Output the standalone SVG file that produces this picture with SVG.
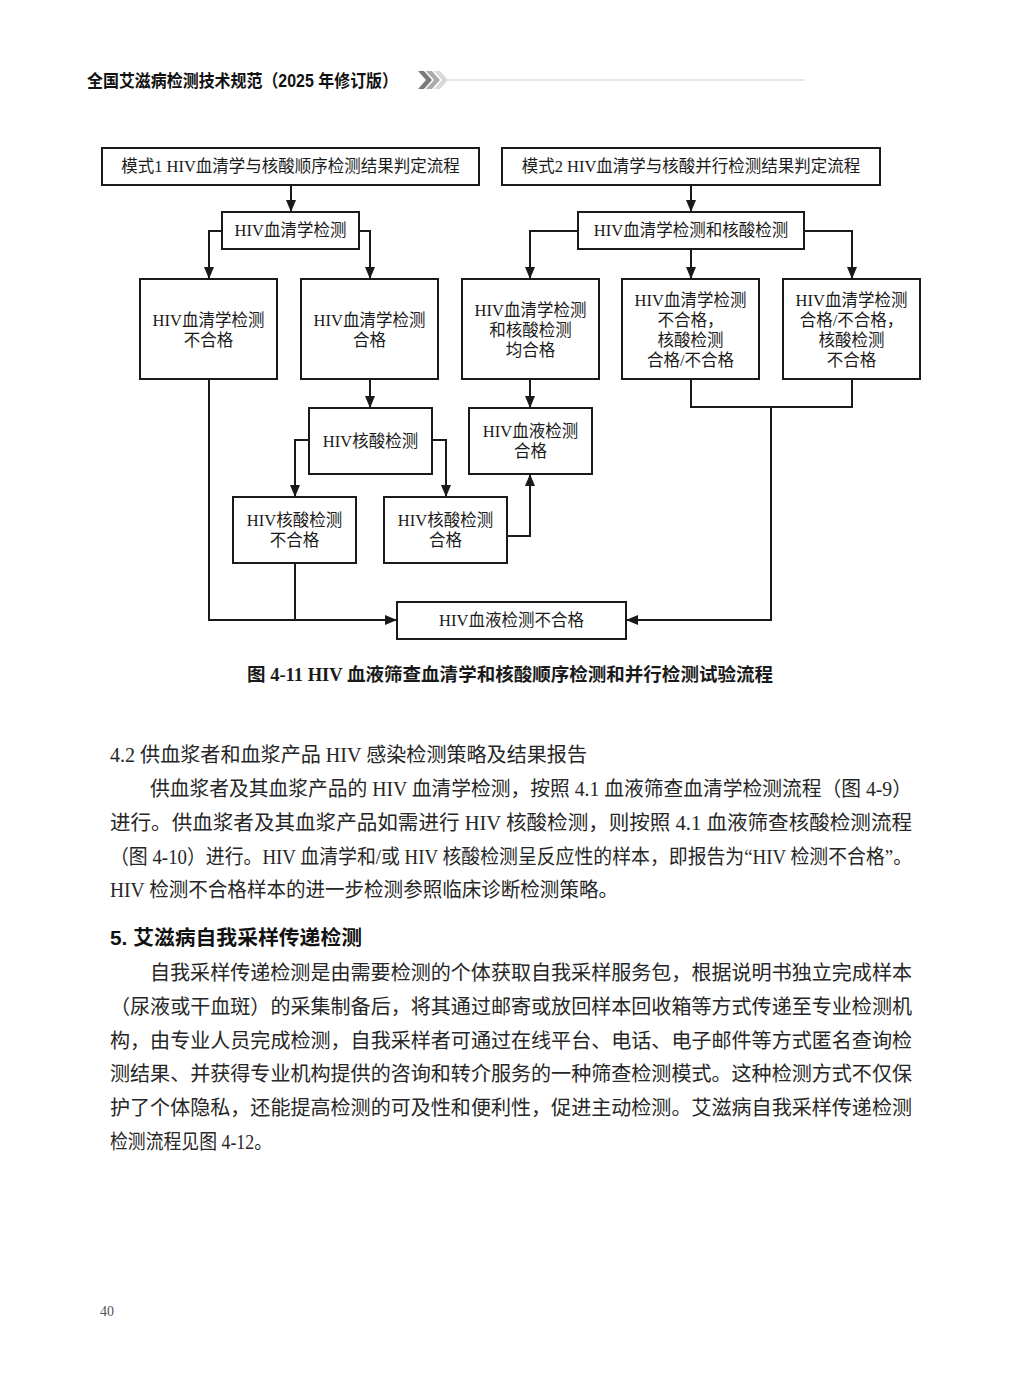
<svg xmlns="http://www.w3.org/2000/svg" width="1022" height="1376" viewBox="0 0 1022 1376">
<style>
.bx{fill:#fff;stroke:#1a1a1a;stroke-width:2}
.t{font-family:"Liberation Serif","Noto Sans CJK SC",serif;font-size:16.5px;fill:#1a1a1a;text-anchor:middle}
.cn{fill:none;stroke:#1a1a1a;stroke-width:2}
.body{font-family:"Liberation Serif","Noto Sans CJK SC",serif;font-size:20px;fill:#262626}
.hd{font-family:"Liberation Sans","Noto Sans CJK SC",sans-serif;font-weight:bold;fill:#111}
</style>
<defs>
<marker id="ah" viewBox="0 0 12 12" refX="12" refY="6" markerWidth="12" markerHeight="12" markerUnits="userSpaceOnUse" orient="auto">
<path d="M0,1 L12,6 L0,11 z" fill="#1a1a1a"/>
</marker>
</defs>
<rect width="1022" height="1376" fill="#fff"/>

<!-- page header -->
<g id="header">
<text class="hd" x="87" y="87" font-size="17.5" textLength="311" lengthAdjust="spacingAndGlyphs">全国艾滋病检测技术规范（2025 年修订版）</text>
<path d="M418,71 L424,71 L432,80 L424,89 L418,89 L426,80 z" fill="#7a7a7a"/>
<path d="M426,71 L432,71 L440,80 L432,89 L426,89 L434,80 z" fill="#ababab"/>
<path d="M434,71 L440,71 L448,80 L440,89 L434,89 L442,80 z" fill="#d8d8d8"/>
<line x1="446" y1="80" x2="805" y2="80" stroke="#e0e0e0" stroke-width="1.5"/>
</g>

<!-- connectors -->
<g id="connectors">
<path class="cn" d="M291,185 V212" marker-end="url(#ah)"/>
<path class="cn" d="M222,231 H209 V279" marker-end="url(#ah)"/>
<path class="cn" d="M359,231 H370 V279" marker-end="url(#ah)"/>
<path class="cn" d="M209,379 V620 H397" marker-end="url(#ah)"/>
<path class="cn" d="M370,379 V408" marker-end="url(#ah)"/>
<path class="cn" d="M309,440 H295 V497" marker-end="url(#ah)"/>
<path class="cn" d="M432,440 H446 V497" marker-end="url(#ah)"/>
<path class="cn" d="M295,563 V620"/>
<path class="cn" d="M507,536 H530 V474" marker-end="url(#ah)"/>
<path class="cn" d="M530,379 V408" marker-end="url(#ah)"/>
<path class="cn" d="M691,185 V212" marker-end="url(#ah)"/>
<path class="cn" d="M578,231 H530 V279" marker-end="url(#ah)"/>
<path class="cn" d="M691,249 V279" marker-end="url(#ah)"/>
<path class="cn" d="M804,231 H852 V279" marker-end="url(#ah)"/>
<path class="cn" d="M691,379 V407 H852 V379"/>
<path class="cn" d="M771,407 V620 H626" marker-end="url(#ah)"/>
</g>

<!-- nodes -->
<g id="mode1">
<rect class="bx" x="102" y="148" width="377" height="37"/>
<text class="t" x="290.5" y="172">模式1 HIV血清学与核酸顺序检测结果判定流程</text>
</g>
<g id="mode2">
<rect class="bx" x="502" y="148" width="378" height="37"/>
<text class="t" x="691" y="172">模式2 HIV血清学与核酸并行检测结果判定流程</text>
</g>
<g id="serology">
<rect class="bx" x="222" y="212" width="137" height="37"/>
<text class="t" x="290.5" y="236">HIV血清学检测</text>
</g>
<g id="serology-both">
<rect class="bx" x="578" y="212" width="226" height="37"/>
<text class="t" x="691" y="236">HIV血清学检测和核酸检测</text>
</g>
<g id="sero-fail">
<rect class="bx" x="140" y="279" width="137" height="100"/>
<text class="t" x="208.5" y="326">HIV血清学检测</text>
<text class="t" x="208.5" y="346">不合格</text>
</g>
<g id="sero-pass">
<rect class="bx" x="301" y="279" width="137" height="100"/>
<text class="t" x="369.5" y="326">HIV血清学检测</text>
<text class="t" x="369.5" y="346">合格</text>
</g>
<g id="both-pass">
<rect class="bx" x="462" y="279" width="137" height="100"/>
<text class="t" x="530.5" y="316">HIV血清学检测</text>
<text class="t" x="530.5" y="336">和核酸检测</text>
<text class="t" x="530.5" y="356">均合格</text>
</g>
<g id="sero-fail-nat">
<rect class="bx" x="622" y="279" width="137" height="100"/>
<text class="t" x="690.5" y="306">HIV血清学检测</text>
<text class="t" x="690.5" y="326">不合格，</text>
<text class="t" x="690.5" y="346">核酸检测</text>
<text class="t" x="690.5" y="366">合格/不合格</text>
</g>
<g id="nat-fail-sero">
<rect class="bx" x="783" y="279" width="137" height="100"/>
<text class="t" x="851.5" y="306">HIV血清学检测</text>
<text class="t" x="851.5" y="326">合格/不合格，</text>
<text class="t" x="851.5" y="346">核酸检测</text>
<text class="t" x="851.5" y="366">不合格</text>
</g>
<g id="nat">
<rect class="bx" x="309" y="408" width="123" height="66"/>
<text class="t" x="370.5" y="447">HIV核酸检测</text>
</g>
<g id="blood-pass">
<rect class="bx" x="469" y="408" width="123" height="66"/>
<text class="t" x="530.5" y="437">HIV血液检测</text>
<text class="t" x="530.5" y="457">合格</text>
</g>
<g id="nat-fail">
<rect class="bx" x="233" y="497" width="123" height="66"/>
<text class="t" x="294.5" y="526">HIV核酸检测</text>
<text class="t" x="294.5" y="546">不合格</text>
</g>
<g id="nat-pass">
<rect class="bx" x="384" y="497" width="123" height="66"/>
<text class="t" x="445.5" y="526">HIV核酸检测</text>
<text class="t" x="445.5" y="546">合格</text>
</g>
<g id="blood-fail">
<rect class="bx" x="397" y="602" width="229" height="37"/>
<text class="t" x="511.5" y="626">HIV血液检测不合格</text>
</g>

<!-- caption -->
<text x="247" y="681" font-family="Liberation Serif,Noto Sans CJK SC,serif" font-weight="bold" font-size="18.5" fill="#1a1a1a" textLength="526" lengthAdjust="spacingAndGlyphs">图 4-11 HIV 血液筛查血清学和核酸顺序检测和并行检测试验流程</text>

<!-- body text -->
<g id="section42">
<text class="body" x="110" y="762" textLength="477" lengthAdjust="spacingAndGlyphs">4.2  供血浆者和血浆产品 HIV 感染检测策略及结果报告</text>
<text class="body" x="150" y="796" textLength="762" lengthAdjust="spacingAndGlyphs">供血浆者及其血浆产品的 HIV 血清学检测，按照 4.1 血液筛查血清学检测流程（图 4-9）</text>
<text class="body" x="110" y="830" textLength="802" lengthAdjust="spacingAndGlyphs">进行。供血浆者及其血浆产品如需进行 HIV 核酸检测，则按照 4.1 血液筛查核酸检测流程</text>
<text class="body" x="110" y="864" textLength="802" lengthAdjust="spacingAndGlyphs">（图 4-10）进行。HIV 血清学和/或 HIV 核酸检测呈反应性的样本，即报告为“HIV 检测不合格”。</text>
<text class="body" x="110" y="897" textLength="508" lengthAdjust="spacingAndGlyphs">HIV 检测不合格样本的进一步检测参照临床诊断检测策略。</text>
</g>
<g id="section5">
<text class="hd" x="110" y="945" font-size="20" textLength="252" lengthAdjust="spacingAndGlyphs">5. 艾滋病自我采样传递检测</text>
<text class="body" x="150" y="980" textLength="762" lengthAdjust="spacingAndGlyphs">自我采样传递检测是由需要检测的个体获取自我采样服务包，根据说明书独立完成样本</text>
<text class="body" x="110" y="1014" textLength="802" lengthAdjust="spacingAndGlyphs">（尿液或干血斑）的采集制备后，将其通过邮寄或放回样本回收箱等方式传递至专业检测机</text>
<text class="body" x="110" y="1048" textLength="802" lengthAdjust="spacingAndGlyphs">构，由专业人员完成检测，自我采样者可通过在线平台、电话、电子邮件等方式匿名查询检</text>
<text class="body" x="110" y="1081" textLength="802" lengthAdjust="spacingAndGlyphs">测结果、并获得专业机构提供的咨询和转介服务的一种筛查检测模式。这种检测方式不仅保</text>
<text class="body" x="110" y="1115" textLength="802" lengthAdjust="spacingAndGlyphs">护了个体隐私，还能提高检测的可及性和便利性，促进主动检测。艾滋病自我采样传递检测</text>
<text class="body" x="110" y="1149" textLength="162" lengthAdjust="spacingAndGlyphs">检测流程见图 4-12。</text>
</g>
<text x="100" y="1316" font-family="Liberation Serif,serif" font-size="14" fill="#555">40</text>
</svg>
